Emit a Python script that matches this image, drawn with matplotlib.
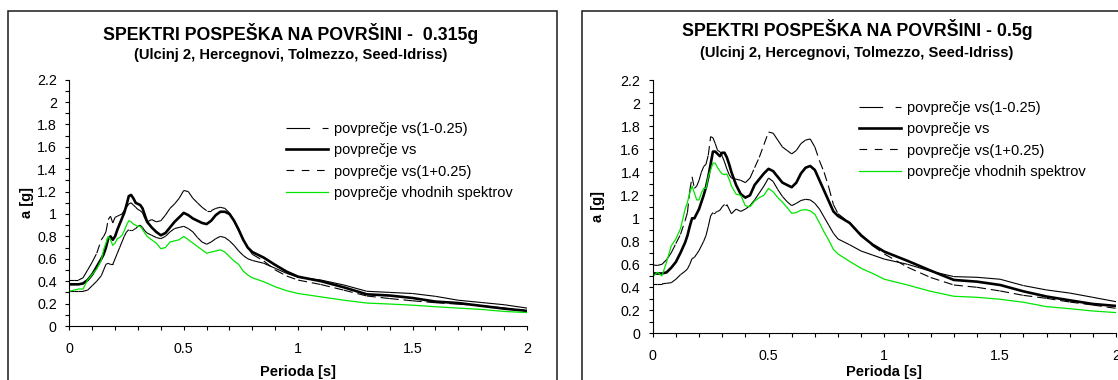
import numpy as np
import matplotlib
matplotlib.use('Agg')
import matplotlib.pyplot as plt
from matplotlib.collections import LineCollection
from matplotlib.lines import Line2D
from matplotlib.patches import Rectangle
from matplotlib.ticker import MultipleLocator, FuncFormatter

plt.rcParams['font.family'] = ['Liberation Sans', 'DejaVu Sans']
plt.rcParams['lines.scale_dashes'] = False

# periode [s]
T = [0, 0.02, 0.04, 0.06, 0.08, 0.10, 0.12, 0.14,
     0.15, 0.16, 0.17, 0.18, 0.19, 0.20, 0.21, 0.22, 0.23, 0.24,
     0.25, 0.26, 0.27, 0.28, 0.29, 0.30, 0.31, 0.32, 0.33, 0.34,
     0.36, 0.38, 0.40, 0.42, 0.44, 0.46, 0.48, 0.50, 0.52, 0.54, 0.56, 0.58,
     0.60, 0.62, 0.64, 0.66, 0.68, 0.70, 0.72, 0.74, 0.76, 0.78, 0.80,
     0.85, 0.90, 0.95, 1.0,
     1.1, 1.2, 1.3, 1.4, 1.5, 1.6, 1.7, 1.8, 1.9, 2.0]

# 0.315g
a_lo_315 = [0.31, 0.31, 0.31, 0.31, 0.32, 0.36, 0.40, 0.45,
            0.50, 0.55, 0.56, 0.55, 0.55, 0.60, 0.65, 0.70, 0.75, 0.80,
            0.84, 0.86, 0.86, 0.86, 0.87, 0.89, 0.90, 0.88, 0.85, 0.83,
            0.81, 0.79, 0.78, 0.80, 0.84, 0.87, 0.88, 0.89, 0.87, 0.84, 0.79, 0.75,
            0.73, 0.75, 0.78, 0.80, 0.79, 0.76, 0.72, 0.67, 0.63, 0.60, 0.585,
            0.56, 0.515, 0.47, 0.435,
            0.41, 0.366, 0.31, 0.30, 0.29, 0.265, 0.23, 0.21, 0.19, 0.16]
a_vs_315 = [0.372, 0.372, 0.372, 0.38, 0.41, 0.46, 0.53, 0.60,
            0.64, 0.70, 0.78, 0.80, 0.77, 0.80, 0.86, 0.91, 0.96, 1.01,
            1.08, 1.16, 1.17, 1.14, 1.10, 1.09, 1.08, 1.05, 0.99, 0.93,
            0.88, 0.84, 0.81, 0.83, 0.88, 0.93, 0.97, 1.01, 0.99, 0.96, 0.94, 0.92,
            0.91, 0.94, 0.99, 1.02, 1.02, 1.00, 0.94, 0.86, 0.77, 0.70, 0.66,
            0.61, 0.545, 0.485, 0.44,
            0.40, 0.345, 0.283, 0.272, 0.25, 0.218, 0.205, 0.18, 0.155, 0.135]
a_hi_315 = [0.41, 0.41, 0.41, 0.43, 0.50, 0.57, 0.65, 0.77,
            0.80, 0.84, 0.95, 0.98, 0.92, 0.97, 0.98, 0.99, 1.00, 1.03,
            1.06, 1.09, 1.10, 1.08, 1.06, 1.04, 1.03, 1.01, 0.96, 0.93,
            0.95, 0.93, 0.94, 0.99, 1.05, 1.09, 1.14, 1.21, 1.20, 1.14, 1.10, 1.06,
            1.03, 1.03, 1.05, 1.06, 1.05, 1.01, 0.94, 0.86, 0.77, 0.70, 0.64,
            0.58, 0.50, 0.446, 0.41,
            0.37, 0.32, 0.268, 0.245, 0.225, 0.208, 0.195, 0.182, 0.16, 0.135]
a_in_315 = [0.31, 0.32, 0.33, 0.33, 0.41, 0.46, 0.51, 0.59,
            0.68, 0.74, 0.80, 0.77, 0.72, 0.74, 0.78, 0.79, 0.81, 0.85,
            0.90, 0.94, 0.93, 0.91, 0.90, 0.89, 0.89, 0.86, 0.83, 0.80,
            0.77, 0.74, 0.69, 0.70, 0.75, 0.76, 0.77, 0.80, 0.77, 0.74, 0.71, 0.68,
            0.65, 0.66, 0.67, 0.68, 0.66, 0.62, 0.58, 0.55, 0.49, 0.455, 0.43,
            0.395, 0.35, 0.315, 0.29,
            0.26, 0.23, 0.205, 0.196, 0.186, 0.172, 0.16, 0.148, 0.13, 0.12]

# 0.5g
a_lo_05 = [0.43, 0.43, 0.43, 0.435, 0.44, 0.47, 0.51, 0.54,
           0.56, 0.60, 0.65, 0.66, 0.69, 0.72, 0.76, 0.80, 0.85, 0.93,
           1.02, 1.05, 1.05, 1.06, 1.07, 1.10, 1.12, 1.12, 1.08, 1.04,
           1.08, 1.06, 1.08, 1.11, 1.16, 1.22, 1.28, 1.35, 1.32, 1.25, 1.19, 1.145,
           1.11, 1.13, 1.155, 1.165, 1.16, 1.13, 1.08, 1.01, 0.94, 0.87, 0.82,
           0.77, 0.715, 0.68, 0.645,
           0.60, 0.54, 0.493, 0.487, 0.47, 0.415, 0.377, 0.35, 0.313, 0.275]
a_vs_05 = [0.52, 0.52, 0.52, 0.53, 0.57, 0.62, 0.70, 0.79,
           0.85, 0.93, 1.00, 1.00, 1.04, 1.08, 1.14, 1.20, 1.27, 1.36,
           1.47, 1.58, 1.58, 1.56, 1.54, 1.57, 1.57, 1.53, 1.47, 1.40,
           1.29, 1.21, 1.18, 1.20, 1.29, 1.34, 1.39, 1.43, 1.41, 1.36, 1.31, 1.29,
           1.27, 1.31, 1.39, 1.44, 1.455, 1.42, 1.33, 1.24, 1.15, 1.06, 1.02,
           0.96, 0.85, 0.77, 0.71,
           0.63, 0.545, 0.464, 0.449, 0.42, 0.365, 0.32, 0.287, 0.255, 0.238]
a_hi_05 = [0.594, 0.59, 0.60, 0.64, 0.70, 0.78, 0.86, 0.98,
           1.05, 1.24, 1.36, 1.26, 1.28, 1.33, 1.40, 1.45, 1.47, 1.55,
           1.71, 1.70, 1.65, 1.59, 1.58, 1.54, 1.49, 1.43, 1.38, 1.35,
           1.34, 1.33, 1.31, 1.35, 1.44, 1.53, 1.64, 1.75, 1.74, 1.68, 1.62, 1.59,
           1.56, 1.59, 1.65, 1.68, 1.69, 1.62, 1.50, 1.40, 1.27, 1.12, 1.04,
           0.96, 0.86, 0.76, 0.69,
           0.575, 0.485, 0.42, 0.40, 0.368, 0.33, 0.304, 0.272, 0.246, 0.217]
a_in_05 = [0.49, 0.53, 0.50, 0.62, 0.76, 0.82, 0.91, 1.08,
           1.14, 1.22, 1.28, 1.22, 1.16, 1.16, 1.22, 1.26, 1.26, 1.36,
           1.42, 1.48, 1.48, 1.44, 1.41, 1.385, 1.38, 1.385, 1.34, 1.28,
           1.21, 1.20, 1.11, 1.10, 1.15, 1.18, 1.20, 1.26, 1.23, 1.18, 1.14, 1.095,
           1.043, 1.05, 1.07, 1.075, 1.065, 1.035, 0.96, 0.88, 0.81, 0.73, 0.69,
           0.625, 0.565, 0.52, 0.47,
           0.42, 0.365, 0.322, 0.313, 0.296, 0.27, 0.232, 0.214, 0.194, 0.18]

labels = ['povprečje vs(1-0.25)', 'povprečje vs',
          'povprečje vs(1+0.25)', 'povprečje vhodnih spektrov']
titles = ['SPEKTRI POSPEŠKA NA POVRŠINI -  0.315g',
          'SPEKTRI POSPEŠKA NA POVRŠINI - 0.5g']
subtitle = '(Ulcinj 2, Hercegnovi, Tolmezzo, Seed-Idriss)'

W, H = 1118, 380
GREEN = '#00e600'
LONG_DASH = (17, 9)
DASH_LINE = (6.5, 3.5)   # along the curve
DASH_KEY = (5.5, 5.5)    # legend sample


def seg_line(ax, x, y, dash, key_dash, lw, color):
    # excel-style dashes: the pattern restarts at every data point
    pts = np.column_stack([x, y])
    segs = np.stack([pts[:-1], pts[1:]], axis=1)
    lc = LineCollection(segs, colors=color, linewidths=lw,
                        linestyles=[(0, dash)], capstyle='butt')
    ax.add_collection(lc)
    return Line2D([], [], color=color, lw=lw, dashes=key_dash)


def panel(box, frame_x, title, tx, ty, sy, data, leg_xy, ylab_x, xlab_y):
    fx0, fx1 = frame_x
    fig.patches.append(Rectangle((fx0 / W, -0.1), (fx1 - fx0) / W, 1.1 - 11 / H,
                                 transform=fig.transFigure, fill=False,
                                 ec='#1a1a1a', lw=1.1, clip_on=False))
    fig.text(tx / W, 1 - ty / H, title, ha='center', va='center',
             fontsize=12.8, fontweight='bold')
    fig.text(tx / W, 1 - sy / H, subtitle, ha='center', va='center',
             fontsize=10.6, fontweight='bold')

    x0, x1, ytop, ybot = box
    ax = fig.add_axes([x0 / W, 1 - ybot / H, (x1 - x0) / W, (ybot - ytop) / H])
    lo, vs, hi, inp = data
    h1 = seg_line(ax, T, lo, LONG_DASH, LONG_DASH, 0.8, 'black')
    h2, = ax.plot(T, vs, color='black', lw=1.9)
    h3 = seg_line(ax, T, hi, DASH_LINE, DASH_KEY, 0.8, 'black')
    h4, = ax.plot(T, inp, color=GREEN, lw=0.9)

    ax.set_xlim(0, 2)
    ax.set_ylim(0, 2.2)
    for s in ['top', 'right']:
        ax.spines[s].set_visible(False)
    for s in ['left', 'bottom']:
        ax.spines[s].set_linewidth(0.8)
    ax.xaxis.set_major_locator(MultipleLocator(0.5))
    ax.xaxis.set_minor_locator(MultipleLocator(0.1))
    ax.yaxis.set_major_locator(MultipleLocator(0.2))
    ax.yaxis.set_minor_locator(MultipleLocator(0.1))
    fmt = FuncFormatter(lambda v, p: '%g' % round(v, 2))
    ax.xaxis.set_major_formatter(fmt)
    ax.yaxis.set_major_formatter(fmt)
    ax.tick_params(which='both', direction='out', length=3, width=0.8)
    ax.tick_params(axis='x', which='major', pad=8.5, labelsize=10.3)
    ax.tick_params(axis='y', which='major', pad=6, labelsize=10.3)

    ax.set_xlabel('Perioda [s]', fontsize=10.5, fontweight='bold')
    ax.set_ylabel('a [g]', fontsize=10.5, fontweight='bold')
    ax.xaxis.set_label_coords(0.5, xlab_y)
    ax.xaxis.label.set_va('center')
    ax.yaxis.set_label_coords(ylab_x, 0.5)
    ax.yaxis.label.set_va('center')

    fig.legend([h1, h2, h3, h4], labels, loc='upper left',
               bbox_to_anchor=(leg_xy[0] / W, 1 - leg_xy[1] / H),
               frameon=False, fontsize=10.5, handlelength=2.9,
               handletextpad=0.4, labelspacing=0.5, borderpad=0,
               borderaxespad=0)
    return ax


fig = plt.figure(figsize=(W / 100, H / 100), dpi=100)

panel((69.3, 527, 79.6, 326), (8, 557), titles[0], 291, 33, 55,
      (a_lo_315, a_vs_315, a_hi_315, a_in_315), (286, 122), -0.092, -0.187)
panel((652.7, 1116, 80.3, 333.3), (582, 1140), titles[1], 857, 29.5, 52.5,
      (a_lo_05, a_vs_05, a_hi_05, a_in_05), (859, 101), -0.117, -0.153)

fig.savefig('out.png', dpi=100)
